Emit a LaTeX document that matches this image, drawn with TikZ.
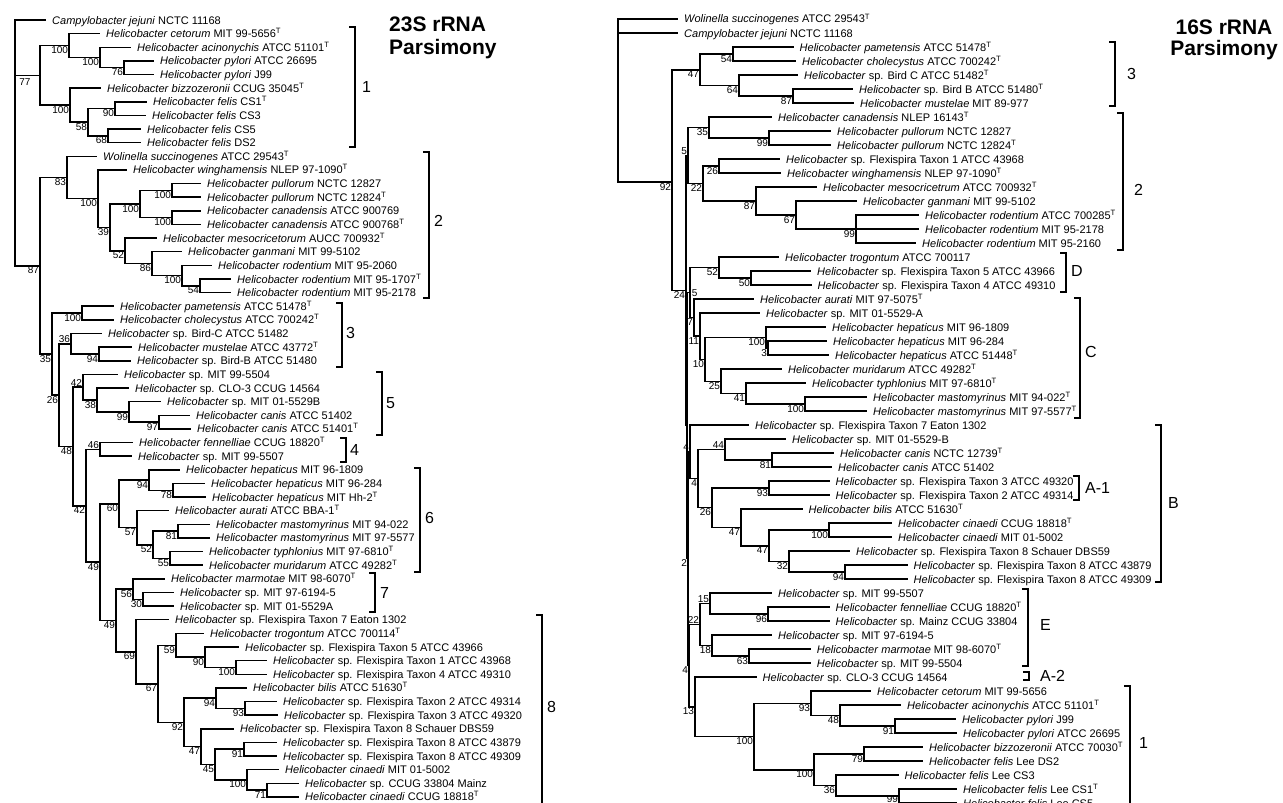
\documentclass[tikz,border=0pt]{standalone}
\usepackage{fontspec}
\setmainfont{Liberation Sans}
\newcommand{\Hb}{\textit{Helicobacter}}
\newcommand{\Ty}{\textsuperscript{T}}

\begin{document}
\begin{tikzpicture}[
    x=1pt, y=-1pt,
    br/.style={line width=1.5pt},
    lf/.style={anchor=west, inner xsep=6pt, inner ysep=0pt, text height=8pt,
               text depth=0pt, font=\fontsize{11}{11}\selectfont},
    bs/.style={anchor=north east, inner sep=0.8pt, text height=7pt,
               text depth=0pt, font=\fontsize{10}{10}\selectfont},
    bsup/.style={bs, anchor=south east},
    brk/.style={line width=1.4pt},
    grp/.style={anchor=west, inner sep=0pt, font=\fontsize{16}{16}\selectfont},
    ttl/.style={inner sep=0pt, font=\fontsize{21}{23}\selectfont\bfseries}
]
\useasboundingbox[fill=white] (0,0) rectangle (1283,803);

% ---------------- 23S rRNA tree ----------------
\node[ttl, align=left, anchor=north west] (ttl23) at (389,16.5) {23S rRNA\\Parsimony};

% leaves
\node[lf] (a1) at (46,20.0) {\textit{Campylobacter jejuni} NCTC 11168};
\node[lf] (a2) at (100,33.6) {\Hb{} \textit{cetorum} MIT 99-5656\Ty};
\node[lf] (a3) at (131,47.3) {\Hb{} \textit{acinonychis} ATCC 51101\Ty};
\node[lf] (a4) at (154,60.9) {\Hb{} \textit{pylori} ATCC 26695};
\node[lf] (a5) at (154,74.5) {\Hb{} \textit{pylori} J99};
\node[lf] (a6) at (101,88.2) {\Hb{} \textit{bizzozeronii} CCUG 35045\Ty};
\node[lf] (a7) at (147,101.8) {\Hb{} \textit{felis} CS1\Ty};
\node[lf] (a8) at (146,115.4) {\Hb{} \textit{felis} CS3};
\node[lf] (a9) at (141,129.0) {\Hb{} \textit{felis} CS5};
\node[lf] (a10) at (141,142.7) {\Hb{} \textit{felis} DS2};
\node[lf] (a11) at (97,156.3) {\textit{Wolinella succinogenes} ATCC 29543\Ty};
\node[lf] (a12) at (127,169.9) {\Hb{} \textit{winghamensis} NLEP 97-1090\Ty};
\node[lf] (a13) at (201,183.6) {\Hb{} \textit{pullorum} NCTC 12827};
\node[lf] (a14) at (201,197.2) {\Hb{} \textit{pullorum} NCTC 12824\Ty};
\node[lf] (a15) at (201,210.8) {\Hb{} \textit{canadensis} ATCC 900769};
\node[lf] (a16) at (201,224.5) {\Hb{} \textit{canadensis} ATCC 900768\Ty};
\node[lf] (a17) at (157,238.1) {\Hb{} \textit{mesocricetorum} AUCC 700932\Ty};
\node[lf] (a18) at (182,251.7) {\Hb{} \textit{ganmani} MIT 99-5102};
\node[lf] (a19) at (212,265.3) {\Hb{} \textit{rodentium} MIT 95-2060};
\node[lf] (a20) at (231,279.0) {\Hb{} \textit{rodentium} MIT 95-1707\Ty};
\node[lf] (a21) at (231,292.6) {\Hb{} \textit{rodentium} MIT 95-2178};
\node[lf] (a22) at (114,306.2) {\Hb{} \textit{pametensis} ATCC 51478\Ty};
\node[lf] (a23) at (114,319.9) {\Hb{} \textit{cholecystus} ATCC 700242\Ty};
\node[lf] (a24) at (102,333.5) {\Hb{} sp. Bird-C ATCC 51482};
\node[lf] (a25) at (132,347.1) {\Hb{} \textit{mustelae} ATCC 43772\Ty};
\node[lf] (a26) at (131,360.8) {\Hb{} sp. Bird-B ATCC 51480};
\node[lf] (a27) at (118,374.4) {\Hb{} sp. MIT 99-5504};
\node[lf] (a28) at (129,388.0) {\Hb{} sp. CLO-3 CCUG 14564};
\node[lf] (a29) at (161,401.6) {\Hb{} sp. MIT 01-5529B};
\node[lf] (a30) at (190,415.3) {\Hb{} \textit{canis} ATCC 51402};
\node[lf] (a31) at (191,428.9) {\Hb{} \textit{canis} ATCC 51401\Ty};
\node[lf] (a32) at (133,442.5) {\Hb{} \textit{fennelliae} CCUG 18820\Ty};
\node[lf] (a33) at (132,456.2) {\Hb{} sp. MIT 99-5507};
\node[lf] (a34) at (180,469.8) {\Hb{} \textit{hepaticus} MIT 96-1809};
\node[lf] (a35) at (205,483.4) {\Hb{} \textit{hepaticus} MIT 96-284};
\node[lf] (a36) at (206,497.1) {\Hb{} \textit{hepaticus} MIT Hh-2\Ty};
\node[lf] (a37) at (169,510.7) {\Hb{} \textit{aurati} ATCC BBA-1\Ty};
\node[lf] (a38) at (210,524.3) {\Hb{} \textit{mastomyrinus} MIT 94-022};
\node[lf] (a39) at (210,537.9) {\Hb{} \textit{mastomyrinus} MIT 97-5577};
\node[lf] (a40) at (203,551.6) {\Hb{} \textit{typhlonius} MIT 97-6810\Ty};
\node[lf] (a41) at (203,565.2) {\Hb{} \textit{muridarum} ATCC 49282\Ty};
\node[lf] (a42) at (165,578.8) {\Hb{} \textit{marmotae} MIT 98-6070\Ty};
\node[lf] (a43) at (174,592.5) {\Hb{} sp. MIT 97-6194-5};
\node[lf] (a44) at (174,606.1) {\Hb{} sp. MIT 01-5529A};
\node[lf] (a45) at (169,619.7) {\Hb{} sp. Flexispira Taxon 7 Eaton 1302};
\node[lf] (a46) at (204,633.4) {\Hb{} \textit{trogontum} ATCC 700114\Ty};
\node[lf] (a47) at (239,647.0) {\Hb{} sp. Flexispira Taxon 5 ATCC 43966};
\node[lf] (a48) at (267,660.6) {\Hb{} sp. Flexispira Taxon 1 ATCC 43968};
\node[lf] (a49) at (267,674.3) {\Hb{} sp. Flexispira Taxon 4 ATCC 49310};
\node[lf] (a50) at (247,687.9) {\Hb{} \textit{bilis} ATCC 51630\Ty};
\node[lf] (a51) at (277,701.5) {\Hb{} sp. Flexispira Taxon 2 ATCC 49314};
\node[lf] (a52) at (278,715.1) {\Hb{} sp. Flexispira Taxon 3 ATCC 49320};
\node[lf] (a53) at (234,728.8) {\Hb{} sp. Flexispira Taxon 8 Schauer DBS59};
\node[lf] (a54) at (277,742.4) {\Hb{} sp. Flexispira Taxon 8 ATCC 43879};
\node[lf] (a55) at (277,756.0) {\Hb{} sp. Flexispira Taxon 8 ATCC 49309};
\node[lf] (a56) at (279,769.7) {\Hb{} \textit{cinaedi} MIT 01-5002};
\node[lf] (a57) at (299,783.3) {\Hb{} sp. CCUG 33804 Mainz};
\node[lf] (a58) at (299,796.9) {\Hb{} \textit{cinaedi} CCUG 18818\Ty};

% branch points with bootstrap values
\coordinate (an0) at (15,142.9);
\coordinate (an77) at (40,75.4);      \node[bs] (tn77) at (31.5,77) {77};
\coordinate (an100a) at (69,45.6);    \node[bs] (tn100a) at (an100a) {100};
\coordinate (an100b) at (100,57.5);   \node[bs] (tn100b) at (an100b) {100};
\coordinate (an76) at (124,67.7);     \node[bs] (tn76) at (an76) {76};
\coordinate (an100c) at (70,105.2);   \node[bs] (tn100c) at (an100c) {100};
\coordinate (an58) at (88,122.2);     \node[bs] (tn58) at (an58) {58};
\coordinate (an90) at (115,108.6);    \node[bs] (tn90) at (an90) {90};
\coordinate (an68) at (108,135.9);    \node[bs] (tn68) at (an68) {68};
\coordinate (an87) at (40,265.8);     \node[bs] (tn87) at (an87) {87};
\coordinate (an83) at (67,177.5);     \node[bs] (tn83) at (an83) {83};
\coordinate (an100d) at (98,198.7);   \node[bs] (tn100d) at (an100d) {100};
\coordinate (an39) at (110,227.4);    \node[bs] (tn39) at (an39) {39};
\coordinate (an100e) at (140,204.0);  \node[bs] (tn100e) at (an100e) {100};
\coordinate (an100f) at (172,190.4);  \node[bs] (tn100f) at (an100f) {100};
\coordinate (an100g) at (172,217.7);  \node[bs] (tn100g) at (an100g) {100};
\coordinate (an52) at (125,250.9);    \node[bs] (tn52) at (an52) {52};
\coordinate (an86) at (152,263.6);    \node[bs] (tn86) at (an86) {86};
\coordinate (an100h) at (182,275.6);  \node[bs] (tn100h) at (an100h) {100};
\coordinate (an54) at (200,285.8);    \node[bs] (tn54) at (an54) {54};
\coordinate (an35) at (52,354.1);     \node[bs] (tn35) at (an35) {35};
\coordinate (an100i) at (82,313.1);   \node[bs] (tn100i) at (an100i) {100};
\coordinate (an26) at (59,395.1);     \node[bs] (tn26) at (an26) {26};
\coordinate (an36) at (71,343.8);     \node[bsup] (tn36) at (an36) {36};
\coordinate (an94a) at (99,354.0);    \node[bs] (tn94a) at (an94a) {94};
\coordinate (an48) at (73,446.5);     \node[bs] (tn48) at (an48) {48};
\coordinate (an42c) at (83,387.2);    \node[bsup] (tn42c) at (an42c) {42};
\coordinate (an38) at (97,400.0);     \node[bs] (tn38) at (an38) {38};
\coordinate (an99) at (129,412.0);    \node[bs] (tn99) at (an99) {99};
\coordinate (an97) at (159,422.1);    \node[bs] (tn97) at (an97) {97};
\coordinate (an42) at (86,505.8);     \node[bs] (tn42) at (an42) {42};
\coordinate (an46) at (100,449.4);    \node[bsup] (tn46) at (an46) {46};
\coordinate (an49a) at (100,562.1);   \node[bs] (tn49a) at (an49a) {49};
\coordinate (an60) at (119,503.9);    \node[bs] (tn60) at (an60) {60};
\coordinate (an94h) at (149,480.0);   \node[bs] (tn94h) at (an94h) {94};
\coordinate (an78) at (173,490.3);    \node[bs] (tn78) at (an78) {78};
\coordinate (an57) at (137,527.7);    \node[bs] (tn57) at (an57) {57};
\coordinate (an52b) at (153,544.8);   \node[bs] (tn52b) at (an52b) {52};
\coordinate (an81) at (178,531.1);    \node[bs] (tn81) at (an81) {81};
\coordinate (an55) at (170,558.4);    \node[bs] (tn55) at (an55) {55};
\coordinate (an49b) at (116,620.4);   \node[bs] (tn49b) at (an49b) {49};
\coordinate (an56) at (133,589.1);    \node[bs] (tn56) at (an56) {56};
\coordinate (an30) at (143,599.3);    \node[bs] (tn30) at (an30) {30};
\coordinate (an69) at (136,651.8);    \node[bs] (tn69) at (an69) {69};
\coordinate (an67) at (158,683.9);    \node[bs] (tn67) at (an67) {67};
\coordinate (an59) at (176,645.3);    \node[bs] (tn59) at (an59) {59};
\coordinate (an90f) at (205,657.2);   \node[bs] (tn90f) at (an90f) {90};
\coordinate (an100j) at (236,667.5);  \node[bs] (tn100j) at (an100j) {100};
\coordinate (an92) at (184,722.4);    \node[bs] (tn92) at (an92) {92};
\coordinate (an94b) at (216,698.1);   \node[bs] (tn94b) at (an94b) {94};
\coordinate (an93) at (245,708.3);    \node[bs] (tn93) at (an93) {93};
\coordinate (an47) at (201,746.7);    \node[bs] (tn47) at (an47) {47};
\coordinate (an45) at (215,764.6);    \node[bs] (tn45) at (an45) {45};
\coordinate (an91) at (244,749.2);    \node[bs] (tn91) at (an91) {91};
\coordinate (an100k) at (247,779.9);  \node[bs] (tn100k) at (an100k) {100};
\coordinate (an71) at (267,790.1);    \node[bs] (tn71) at (an71) {71};

% branches
\draw[br] (an0) |- (a1.west) (an0) |- (an77) (an0) |- (an87);
\draw[br] (an77) |- (an100a) (an77) |- (an100c);
\draw[br] (an100a) |- (a2.west) (an100a) |- (an100b);
\draw[br] (an100b) |- (a3.west) (an100b) |- (an76);
\draw[br] (an76) |- (a4.west) (an76) |- (a5.west);
\draw[br] (an100c) |- (a6.west) (an100c) |- (an58);
\draw[br] (an58) |- (an90) (an58) |- (an68);
\draw[br] (an90) |- (a7.west) (an90) |- (a8.west);
\draw[br] (an68) |- (a9.west) (an68) |- (a10.west);
\draw[br] (an87) |- (an83) (an87) |- (an35);
\draw[br] (an83) |- (a11.west) (an83) |- (an100d);
\draw[br] (an100d) |- (a12.west) (an100d) |- (an39);
\draw[br] (an39) |- (an100e) (an39) |- (an52);
\draw[br] (an100e) |- (an100f) (an100e) |- (an100g);
\draw[br] (an100f) |- (a13.west) (an100f) |- (a14.west);
\draw[br] (an100g) |- (a15.west) (an100g) |- (a16.west);
\draw[br] (an52) |- (a17.west) (an52) |- (an86);
\draw[br] (an86) |- (a18.west) (an86) |- (an100h);
\draw[br] (an100h) |- (a19.west) (an100h) |- (an54);
\draw[br] (an54) |- (a20.west) (an54) |- (a21.west);
\draw[br] (an35) |- (an100i) (an35) |- (an26);
\draw[br] (an100i) |- (a22.west) (an100i) |- (a23.west);
\draw[br] (an26) |- (an36) (an26) |- (an48);
\draw[br] (an36) |- (a24.west) (an36) |- (an94a);
\draw[br] (an94a) |- (a25.west) (an94a) |- (a26.west);
\draw[br] (an48) |- (an42c) (an48) |- (an42);
\draw[br] (an42c) |- (a27.west) (an42c) |- (an38);
\draw[br] (an38) |- (a28.west) (an38) |- (an99);
\draw[br] (an99) |- (a29.west) (an99) |- (an97);
\draw[br] (an97) |- (a30.west) (an97) |- (a31.west);
\draw[br] (an42) |- (an46) (an42) |- (an49a);
\draw[br] (an46) |- (a32.west) (an46) |- (a33.west);
\draw[br] (an49a) |- (an60) (an49a) |- (an49b);
\draw[br] (an60) |- (an94h) (an60) |- (an57);
\draw[br] (an94h) |- (a34.west) (an94h) |- (an78);
\draw[br] (an78) |- (a35.west) (an78) |- (a36.west);
\draw[br] (an57) |- (a37.west) (an57) |- (an52b);
\draw[br] (an52b) |- (an81) (an52b) |- (an55);
\draw[br] (an81) |- (a38.west) (an81) |- (a39.west);
\draw[br] (an55) |- (a40.west) (an55) |- (a41.west);
\draw[br] (an49b) |- (an56) (an49b) |- (an69);
\draw[br] (an56) |- (a42.west) (an56) |- (an30);
\draw[br] (an30) |- (a43.west) (an30) |- (a44.west);
\draw[br] (an69) |- (a45.west) (an69) |- (an67);
\draw[br] (an67) |- (an59) (an67) |- (an92);
\draw[br] (an59) |- (a46.west) (an59) |- (an90f);
\draw[br] (an90f) |- (a47.west) (an90f) |- (an100j);
\draw[br] (an100j) |- (a48.west) (an100j) |- (a49.west);
\draw[br] (an92) |- (an94b) (an92) |- (an47);
\draw[br] (an94b) |- (a50.west) (an94b) |- (an93);
\draw[br] (an93) |- (a51.west) (an93) |- (a52.west);
\draw[br] (an47) |- (a53.west) (an47) |- (an45);
\draw[br] (an45) |- (an91) (an45) |- (an100k);
\draw[br] (an91) |- (a54.west) (an91) |- (a55.west);
\draw[br] (an100k) |- (a56.west) (an100k) |- (an71);
\draw[br] (an71) |- (a57.west) (an71) |- (a58.west);

% clusters
\draw[brk] (349,27) -- (355,27) -- (355,147) -- (349,147);
\node[grp] (ga1) at (362,87) {1};
\draw[brk] (423,152) -- (429,152) -- (429,298) -- (423,298);
\node[grp] (ga2) at (434,221) {2};
\draw[brk] (336,303) -- (342,303) -- (342,367) -- (336,367);
\node[grp] (ga3) at (346,333) {3};
\draw[brk] (376,372) -- (382,372) -- (382,435) -- (376,435);
\node[grp] (ga5) at (386,403) {5};
\draw[brk] (340,438) -- (346,438) -- (346,462) -- (340,462);
\node[grp] (ga4) at (350,450) {4};
\draw[brk] (414,468) -- (420,468) -- (420,572) -- (414,572);
\node[grp] (ga6) at (425,518) {6};
\draw[brk] (369,573) -- (375,573) -- (375,612) -- (369,612);
\node[grp] (ga7) at (380,593) {7};
\draw[brk] (536,615) -- (542,615) -- (542,810);
\node[grp] (ga8) at (547,707) {8};

% ---------------- 16S rRNA tree ----------------
\node[ttl, font=\fontsize{21}{21}\selectfont\bfseries, align=center, anchor=north]
  (ttl16) at (1224,20) {16S rRNA\\Parsimony};

% leaves
\node[lf] (b1) at (678,19) {\textit{Wolinella succinogenes} ATCC 29543\Ty};
\node[lf] (b2) at (678,33) {\textit{Campylobacter jejuni} NCTC 11168};
\node[lf] (b3) at (793.5,47) {\Hb{} \textit{pametensis} ATCC 51478\Ty};
\node[lf] (b4) at (796,61) {\Hb{} \textit{cholecystus} ATCC 700242\Ty};
\node[lf] (b5) at (798,75) {\Hb{} sp. Bird C ATCC 51482\Ty};
\node[lf] (b6) at (853,89) {\Hb{} sp. Bird B ATCC 51480\Ty};
\node[lf] (b7) at (854,103) {\Hb{} \textit{mustelae} MIT 89-977};
\node[lf] (b8) at (772,117) {\Hb{} \textit{canadensis} NLEP 16143\Ty};
\node[lf] (b9) at (831,131) {\Hb{} \textit{pullorum} NCTC 12827};
\node[lf] (b10) at (831,145) {\Hb{} \textit{pullorum} NCTC 12824\Ty};
\node[lf] (b11) at (780,159) {\Hb{} sp. Flexispira Taxon 1 ATCC 43968};
\node[lf] (b12) at (781,173) {\Hb{} \textit{winghamensis} NLEP 97-1090\Ty};
\node[lf] (b13) at (817,187) {\Hb{} \textit{mesocricetrum} ATCC 700932\Ty};
\node[lf] (b14) at (857,201) {\Hb{} \textit{ganmani} MIT 99-5102};
\node[lf] (b15) at (919,215) {\Hb{} \textit{rodentium} ATCC 700285\Ty};
\node[lf] (b16) at (919,229) {\Hb{} \textit{rodentium} MIT 95-2178};
\node[lf] (b17) at (916,243) {\Hb{} \textit{rodentium} MIT 95-2160};
\node[lf] (b18) at (779,257) {\Hb{} \textit{trogontum} ATCC 700117};
\node[lf] (b19) at (811,271) {\Hb{} sp. Flexispira Taxon 5 ATCC 43966};
\node[lf] (b20) at (811.5,285) {\Hb{} sp. Flexispira Taxon 4 ATCC 49310};
\node[lf] (b21) at (754,299) {\Hb{} \textit{aurati} MIT 97-5075\Ty};
\node[lf] (b22) at (760,313) {\Hb{} sp. MIT 01-5529-A};
\node[lf] (b23) at (826,327) {\Hb{} \textit{hepaticus} MIT 96-1809};
\node[lf] (b24) at (827,341) {\Hb{} \textit{hepaticus} MIT 96-284};
\node[lf] (b25) at (829,355) {\Hb{} \textit{hepaticus} ATCC 51448\Ty};
\node[lf] (b26) at (782,369) {\Hb{} \textit{muridarum} ATCC 49282\Ty};
\node[lf] (b27) at (806,383) {\Hb{} \textit{typhlonius} MIT 97-6810\Ty};
\node[lf] (b28) at (867,397) {\Hb{} \textit{mastomyrinus} MIT 94-022\Ty};
\node[lf] (b29) at (867,411) {\Hb{} \textit{mastomyrinus} MIT 97-5577\Ty};
\node[lf] (b30) at (749,425) {\Hb{} sp. Flexispira Taxon 7 Eaton 1302};
\node[lf] (b31) at (786,439) {\Hb{} sp. MIT 01-5529-B};
\node[lf] (b32) at (834,453) {\Hb{} \textit{canis} NCTC 12739\Ty};
\node[lf] (b33) at (832,467) {\Hb{} \textit{canis} ATCC 51402};
\node[lf] (b34) at (829.5,481) {\Hb{} sp. Flexispira Taxon 3 ATCC 49320};
\node[lf] (b35) at (829.5,495) {\Hb{} sp. Flexispira Taxon 2 ATCC 49314};
\node[lf] (b36) at (802.5,509) {\Hb{} \textit{bilis} ATCC 51630\Ty};
\node[lf] (b37) at (892,523) {\Hb{} \textit{cinaedi} CCUG 18818\Ty};
\node[lf] (b38) at (892,537) {\Hb{} \textit{cinaedi} MIT 01-5002};
\node[lf] (b39) at (850,551) {\Hb{} sp. Flexispira Taxon 8 Schauer DBS59};
\node[lf] (b40) at (907.5,565) {\Hb{} sp. Flexispira Taxon 8 ATCC 43879};
\node[lf] (b41) at (907.5,579) {\Hb{} sp. Flexispira Taxon 8 ATCC 49309};
\node[lf] (b42) at (772,593) {\Hb{} sp. MIT 99-5507};
\node[lf] (b43) at (829.5,607) {\Hb{} \textit{fennelliae} CCUG 18820\Ty};
\node[lf] (b44) at (829.5,621) {\Hb{} sp. Mainz CCUG 33804};
\node[lf] (b45) at (772,635) {\Hb{} sp. MIT 97-6194-5};
\node[lf] (b46) at (810.6,649) {\Hb{} \textit{marmotae} MIT 98-6070\Ty};
\node[lf] (b47) at (810.6,663) {\Hb{} sp. MIT 99-5504};
\node[lf] (b48) at (756.5,677) {\Hb{} sp. CLO-3 CCUG 14564};
\node[lf] (b49) at (871,691) {\Hb{} \textit{cetorum} MIT 99-5656};
\node[lf] (b50) at (901,705) {\Hb{} \textit{acinonychis} ATCC 51101\Ty};
\node[lf] (b51) at (956,719) {\Hb{} \textit{pylori} J99};
\node[lf] (b52) at (957,733) {\Hb{} \textit{pylori} ATCC 26695};
\node[lf] (b53) at (923,747) {\Hb{} \textit{bizzozeronii} ATCC 70030\Ty};
\node[lf] (b54) at (923,761) {\Hb{} \textit{felis} Lee DS2};
\node[lf] (b55) at (898.5,775) {\Hb{} \textit{felis} Lee CS3};
\node[lf] (b56) at (957,789) {\Hb{} \textit{felis} Lee CS1\Ty};
\node[lf] (b57) at (957,803) {\Hb{} \textit{felis} Lee CS5};

% branch points with bootstrap values
\coordinate (bn0) at (618,99.6);
\coordinate (bn92) at (672,182);      \node[bs] (tb92) at (bn92) {92};
\coordinate (bn47) at (700,69.8);     \node[bs] (tb47) at (bn47) {47};
\coordinate (bn54) at (733,54);       \node[bs] (tb54) at (bn54) {54};
\coordinate (bn64) at (739,85.5);     \node[bs] (tb64) at (bn64) {64};
\coordinate (bn87a) at (793,96);      \node[bs] (tb87a) at (bn87a) {87};
\coordinate (bn24) at (686,290.6);    \node[bs] (tb24) at (bn24) {24};
\coordinate (bn5a) at (688,155.5);    \node[bsup] (tb5a) at (bn5a) {5};
\coordinate (bn35) at (709,127.5);    \node[bs] (tb35) at (bn35) {35};
\coordinate (bn99a) at (769,138);     \node[bs] (tb99a) at (bn99a) {99};
\coordinate (bn22a) at (703,183.5);   \node[bs] (tb22a) at (bn22a) {22};
\coordinate (bn26a) at (719,166);     \node[bs] (tb26a) at (bn26a) {26};
\coordinate (bn87b) at (756,201);     \node[bs] (tb87b) at (bn87b) {87};
\coordinate (bn67) at (796,215);      \node[bs] (tb67) at (bn67) {67};
\coordinate (bn99b) at (856,229);     \node[bs] (tb99b) at (bn99b) {99};
\coordinate (bns2) at (687,425.6);
\coordinate (bn5b) at (690,292.6);    \node[bs, anchor=east] (tb5b) at (698.5,292.7) {5};
\coordinate (bn52) at (719,267.5);    \node[bs] (tb52) at (bn52) {52};
\coordinate (bn50) at (751,278);      \node[bs] (tb50) at (bn50) {50};
\coordinate (bn7) at (694,317.6);     \node[bs] (tb7) at (bn7) {7};
\coordinate (bn11) at (700,336.2);    \node[bs] (tb11) at (bn11) {11};
\coordinate (bn10) at (705,359.4);    \node[bs] (tb10) at (bn10) {10};
\coordinate (bn100h) at (766,337.5);  \node[bs] (tb100h) at (bn100h) {100};
\coordinate (bn3) at (768,348);       \node[bs] (tb3) at (bn3) {3};
\coordinate (bn25) at (721,381.3);    \node[bs] (tb25) at (bn25) {25};
\coordinate (bn41) at (746,393.5);    \node[bs] (tb41) at (bn41) {41};
\coordinate (bn100m) at (805,404);    \node[bs] (tb100m) at (bn100m) {100};
\coordinate (bn2) at (688,558.7);     \node[bs] (tb2) at (bn2) {2};
\coordinate (bn4a) at (690,451.8);    \node[bsup] (tb4a) at (bn4a) {4};
\coordinate (bn4b) at (698,478.6);    \node[bs] (tb4b) at (bn4b) {4};
\coordinate (bn44) at (725,449.5);    \node[bsup] (tb44) at (bn44) {44};
\coordinate (bn81) at (772,460);      \node[bs] (tb81) at (bn81) {81};
\coordinate (bn26b) at (712,507.7);   \node[bs] (tb26b) at (bn26b) {26};
\coordinate (bn93a) at (769,488);     \node[bs] (tb93a) at (bn93a) {93};
\coordinate (bn47a) at (741,527.4);   \node[bs] (tb47a) at (bn47a) {47};
\coordinate (bn47b) at (769,545.8);   \node[bs] (tb47b) at (bn47b) {47};
\coordinate (bn100c) at (829,530);    \node[bs] (tb100c) at (bn100c) {100};
\coordinate (bn32) at (789,561.5);    \node[bs] (tb32) at (bn32) {32};
\coordinate (bn94) at (845,572);      \node[bs] (tb94) at (bn94) {94};
\coordinate (bn4c) at (689,665.6);    \node[bs] (tb4c) at (bn4c) {4};
\coordinate (bn22e) at (700,624.5);   \node[bsup] (tb22e) at (bn22e) {22};
\coordinate (bn15) at (710,603.5);    \node[bsup] (tb15) at (bn15) {15};
\coordinate (bn96) at (768,614);      \node[bs] (tb96) at (bn96) {96};
\coordinate (bn18) at (712,645.5);    \node[bs] (tb18) at (bn18) {18};
\coordinate (bn63) at (749,656);      \node[bs] (tb63) at (bn63) {63};
\coordinate (bn13) at (695,706.8);    \node[bs] (tb13) at (bn13) {13};
\coordinate (bn100a) at (754,736.5);  \node[bs] (tb100a) at (bn100a) {100};
\coordinate (bn93b) at (811,703.3);   \node[bs] (tb93b) at (bn93b) {93};
\coordinate (bn48) at (840,715.5);    \node[bs] (tb48) at (bn48) {48};
\coordinate (bn91) at (895,726);      \node[bs] (tb91) at (bn91) {91};
\coordinate (bn100b) at (814,769.8);  \node[bs] (tb100b) at (bn100b) {100};
\coordinate (bn79) at (864,754);      \node[bs] (tb79) at (bn79) {79};
\coordinate (bn36) at (836,785.5);    \node[bs] (tb36) at (bn36) {36};
\coordinate (bn99c) at (899,796);     \node[bs, anchor=east] (tb99c) at (899,798.5) {99};

% branches
\draw[br] (bn0) |- (b1.west) (bn0) |- (b2.west) (bn0) |- (bn92);
\draw[br] (bn92) |- (bn47) (bn92) |- (bn24);
\draw[br] (bn47) |- (bn54) (bn47) |- (bn64);
\draw[br] (bn54) |- (b3.west) (bn54) |- (b4.west);
\draw[br] (bn64) |- (b5.west) (bn64) |- (bn87a);
\draw[br] (bn87a) |- (b6.west) (bn87a) |- (b7.west);
\draw[br] (bn24) |- (bn5a) (bn24) |- (bns2);
\draw[br] (bn5a) |- (bn35) (bn5a) |- (bn22a);
\draw[br] (bn35) |- (b8.west) (bn35) |- (bn99a);
\draw[br] (bn99a) |- (b9.west) (bn99a) |- (b10.west);
\draw[br] (bn22a) |- (bn26a) (bn22a) |- (bn87b);
\draw[br] (bn26a) |- (b11.west) (bn26a) |- (b12.west);
\draw[br] (bn87b) |- (b13.west) (bn87b) |- (bn67);
\draw[br] (bn67) |- (b14.west) (bn67) |- (bn99b);
\draw[br] (bn99b) |- (b15.west) (bn99b) |- (b16.west) (bn99b) |- (b17.west);
\draw[br] (bns2) |- (bn5b) (bns2) |- (bn2);
\draw[br] (bn5b) |- (bn52) (bn5b) |- (bn7);
\draw[br] (bn52) |- (b18.west) (bn52) |- (bn50);
\draw[br] (bn50) |- (b19.west) (bn50) |- (b20.west);
\draw[br] (bn7) |- (b21.west) (bn7) |- (bn11);
\draw[br] (bn11) |- (b22.west) (bn11) |- (bn10);
\draw[br] (bn10) |- (bn100h) (bn10) |- (bn25);
\draw[br] (bn100h) |- (b23.west) (bn100h) |- (bn3);
\draw[br] (bn3) |- (b24.west) (bn3) |- (b25.west);
\draw[br] (bn25) |- (b26.west) (bn25) |- (bn41);
\draw[br] (bn41) |- (b27.west) (bn41) |- (bn100m);
\draw[br] (bn100m) |- (b28.west) (bn100m) |- (b29.west);
\draw[br] (bn2) |- (bn4a) (bn2) |- (bn4c);
\draw[br] (bn4a) |- (b30.west) (bn4a) |- (bn4b);
\draw[br] (bn4b) |- (bn44) (bn4b) |- (bn26b);
\draw[br] (bn44) |- (b31.west) (bn44) |- (bn81);
\draw[br] (bn81) |- (b32.west) (bn81) |- (b33.west);
\draw[br] (bn26b) |- (bn93a) (bn26b) |- (bn47a);
\draw[br] (bn93a) |- (b34.west) (bn93a) |- (b35.west);
\draw[br] (bn47a) |- (b36.west) (bn47a) |- (bn47b);
\draw[br] (bn47b) |- (bn100c) (bn47b) |- (bn32);
\draw[br] (bn100c) |- (b37.west) (bn100c) |- (b38.west);
\draw[br] (bn32) |- (b39.west) (bn32) |- (bn94);
\draw[br] (bn94) |- (b40.west) (bn94) |- (b41.west);
\draw[br] (bn4c) |- (bn22e) (bn4c) |- (bn13);
\draw[br] (bn22e) |- (bn15) (bn22e) |- (bn18);
\draw[br] (bn15) |- (b42.west) (bn15) |- (bn96);
\draw[br] (bn96) |- (b43.west) (bn96) |- (b44.west);
\draw[br] (bn18) |- (b45.west) (bn18) |- (bn63);
\draw[br] (bn63) |- (b46.west) (bn63) |- (b47.west);
\draw[br] (bn13) |- (b48.west) (bn13) |- (bn100a);
\draw[br] (bn100a) |- (bn93b) (bn100a) |- (bn100b);
\draw[br] (bn93b) |- (b49.west) (bn93b) |- (bn48);
\draw[br] (bn48) |- (b50.west) (bn48) |- (bn91);
\draw[br] (bn91) |- (b51.west) (bn91) |- (b52.west);
\draw[br] (bn100b) |- (bn79) (bn100b) |- (bn36);
\draw[br] (bn79) |- (b53.west) (bn79) |- (b54.west);
\draw[br] (bn36) |- (b55.west) (bn36) |- (bn99c);
\draw[br] (bn99c) |- (b56.west) (bn99c) |- (b57.west);

% clusters
\draw[brk] (1109,42) -- (1115,42) -- (1115,106) -- (1109,106);
\node[grp] (gb3) at (1127,74) {3};
\draw[brk] (1117,113) -- (1123,113) -- (1123,250) -- (1117,250);
\node[grp] (gb2) at (1134,190) {2};
\draw[brk] (1060,253) -- (1066,253) -- (1066,292) -- (1060,292);
\node[grp] (gbD) at (1071,271) {D};
\draw[brk] (1074,298) -- (1080,298) -- (1080,418) -- (1074,418);
\node[grp] (gbC) at (1085,352) {C};
\draw[brk] (1073,476) -- (1079,476) -- (1079,500) -- (1073,500);
\node[grp] (gbA1) at (1085,488) {A-1};
\draw[brk] (1155,425) -- (1161,425) -- (1161,582) -- (1155,582);
\node[grp] (gbB) at (1168,503) {B};
\draw[brk] (1022,589) -- (1028,589) -- (1028,666) -- (1022,666);
\node[grp] (gbE) at (1040,625) {E};
\draw[brk] (1023,672) -- (1029,672) -- (1029,680) -- (1023,680);
\node[grp] (gbA2) at (1040,676) {A-2};
\draw[brk] (1124,686) -- (1130,686) -- (1130,810);
\node[grp] (gb1) at (1139,743) {1};
\end{tikzpicture}
\end{document}
